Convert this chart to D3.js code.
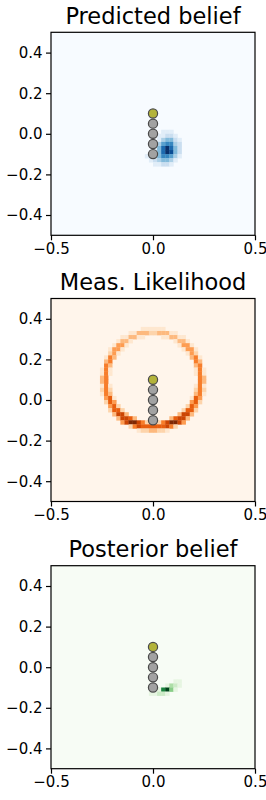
<!DOCTYPE html>
<html>
<head>
<meta charset="utf-8">
<script src="https://cdn.jsdelivr.net/npm/d3@7"></script>
<style>
  body { margin: 0; background: #fff; }
  text { font-family: "DejaVu Sans", sans-serif; }
</style>
</head>
<body>
<script>
// panel titles and ticks
var titles = ["Predicted belief", "Meas. Likelihood", "Posterior belief"];
var xTicks = [-0.5, 0, 0.5];
var yTicks = [-0.4, -0.2, 0, 0.2, 0.4];

// track of poses, the last one is the current pose (olive)
var trackX = [0, 0, 0, 0, 0];
var trackY = [-0.1, -0.05, 0, 0.05, 0.1];

// the maps are 50x50 cells of 0.02
var cell = 0.02;

// heat levels 0-9, one string per grid row (top row first).
// x0/y0 = centre of the first cell of each patch, the rest of the map is 0
var predX0 = -0.05, predY0 = 0.01;
var predRows = [
  "00000111000",
  "00001122100",
  "00001344210",
  "00013566320",
  "00014797420",
  "00114798420",
  "01124665310",
  "00123443100",
  "00011221000"
];

var likeX0 = -0.27, likeY0 = 0.37;
var likeRows = [
  "0000000000000000000000000000",
  "0000000000011111100000000000",
  "0000000011333223331100000000",
  "0000001133110000113311000000",
  "0000013310000000000133100000",
  "0000144100000000000014410000",
  "0001441000000000000001441000",
  "0002410000000000000000142000",
  "0015300000000000000000035100",
  "0035000000000000000000005300",
  "0053000000000000000000003500",
  "0151000000000000000000001510",
  "0151000000000000000000001510",
  "0350000000000000000000000530",
  "0350000000000000000000000530",
  "0151000000000000000000001510",
  "0252000000000000000000002520",
  "0153000000000000000000003510",
  "0046100000000000000000016400",
  "0026400000000000000000046200",
  "0004620000000000000000264000",
  "0002662000000000000002662000",
  "0000377300000000000037730000",
  "0000037763000000003677300000",
  "0000004799752222579974000000",
  "0000000025766666675200000000",
  "0000000000122332210000000000"
];

var postX0 = -0.01, postY0 = -0.07;
var postRows = [
  "000000110",
  "000013210",
  "001794100",
  "112210000"
];

var panels = [
  { title: titles[0], x0: predX0, y0: predY0, rows: predRows, cmap: d3.interpolateBlues },
  { title: titles[1], x0: likeX0, y0: likeY0, rows: likeRows, cmap: d3.interpolateOranges },
  { title: titles[2], x0: postX0, y0: postY0, rows: postRows, cmap: d3.interpolateGreens }
];

var W = 266, H = 800;
var left = 51, size = 204, plotH = 203;
var tops = [32.3, 298.5, 565.7];

var svg = d3.select("body").append("svg")
    .attr("width", W)
    .attr("height", H);

panels.forEach(function(p, k) {
    var g = svg.append("g")
        .attr("transform", "translate(" + left + "," + tops[k] + ")");

    var x = d3.scaleLinear().domain([-0.5, 0.5]).range([0, size]);
    var y = d3.scaleLinear().domain([-0.5, 0.5]).range([plotH, 0]);
    var color = d3.scaleSequential(p.cmap).domain([0, 9]);

    // background = lowest level of the colormap
    g.append("rect")
        .attr("x", x(-0.5)).attr("y", y(0.5))
        .attr("width", x(0.5) - x(-0.5))
        .attr("height", y(-0.5) - y(0.5))
        .attr("fill", color(0));

    // turn the row strings into cells
    var cells = [];
    p.rows.forEach(function(row, i) {
        row.split("").forEach(function(ch, j) {
            var v = +ch;
            if (v > 0) {
                cells.push({ cx: p.x0 + j * cell, cy: p.y0 - i * cell, v: v });
            }
        });
    });

    g.selectAll(".cell")
        .data(cells)
        .enter().append("rect")
        .attr("class", "cell")
        .attr("x", function(d) { return x(d.cx - cell / 2); })
        .attr("y", function(d) { return y(d.cy + cell / 2); })
        .attr("width", function(d) { return x(d.cx + cell / 2) - x(d.cx - cell / 2) + 0.3; })
        .attr("height", function(d) { return y(d.cy - cell / 2) - y(d.cy + cell / 2) + 0.3; })
        .attr("fill", function(d) { return color(d.v); });

    // track markers
    g.selectAll(".pose")
        .data(trackY)
        .enter().append("circle")
        .attr("class", "pose")
        .attr("cx", function(d, i) { return x(trackX[i]); })
        .attr("cy", function(d) { return y(d); })
        .attr("r", 4.6)
        .attr("fill", function(d, i) { return i === trackY.length - 1 ? "#b3b33a" : "#a2a2a2"; })
        .attr("stroke", "#4a4a4a")
        .attr("stroke-width", 1.2);

    // axes
    var fmt = d3.format(".1f");
    g.append("g")
        .attr("transform", "translate(0," + plotH + ")")
        .call(d3.axisBottom(x).tickValues(xTicks).tickFormat(fmt)
            .tickSize(5).tickSizeOuter(0).tickPadding(3))
        .call(function(a) {
            a.select(".domain").remove();
            a.selectAll("line").attr("stroke", "#000").attr("stroke-width", 1.2);
            a.selectAll("text").attr("fill", "#000").style("font-size", "15px");
        });

    g.append("g")
        .call(d3.axisLeft(y).tickValues(yTicks).tickFormat(fmt)
            .tickSize(5).tickSizeOuter(0).tickPadding(3.5))
        .call(function(a) {
            a.select(".domain").remove();
            a.selectAll("line").attr("stroke", "#000").attr("stroke-width", 1.2);
            a.selectAll("text").attr("fill", "#000").style("font-size", "15px");
        });

    // frame
    g.append("rect")
        .attr("x", 0).attr("y", 0)
        .attr("width", size).attr("height", plotH)
        .attr("fill", "none")
        .attr("stroke", "#000")
        .attr("stroke-width", 1.2);

    // title
    g.append("text")
        .attr("x", size / 2)
        .attr("y", -8.5)
        .attr("text-anchor", "middle")
        .style("font-size", "22.5px")
        .text(p.title);
});
</script>
</body>
</html>
